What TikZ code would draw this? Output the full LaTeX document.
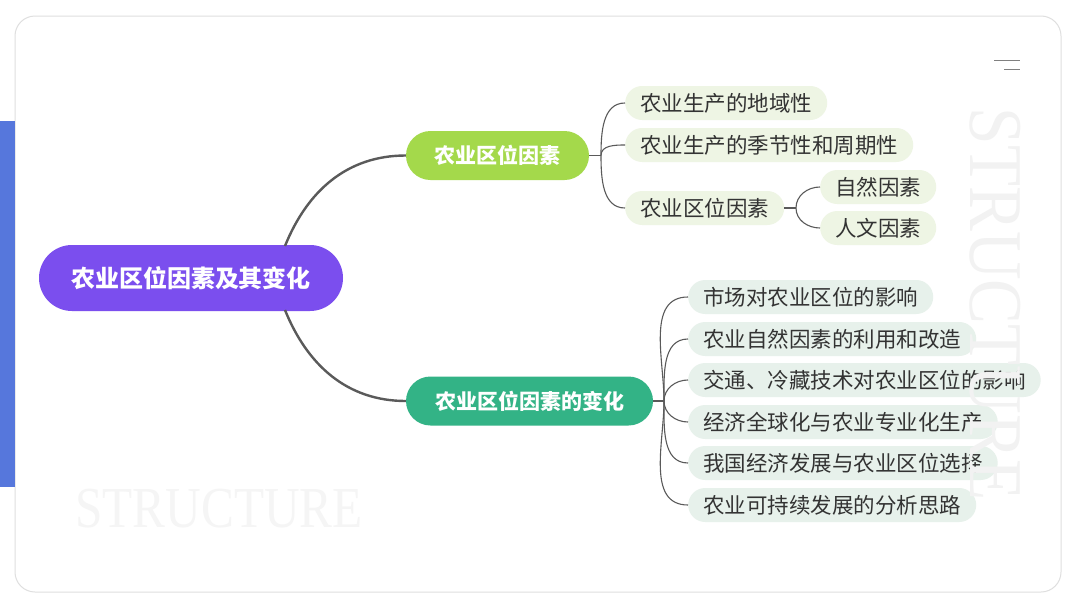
\documentclass[tikz,border=0pt]{standalone}
\usepackage{fontspec}
\setmainfont{Noto Sans CJK SC}
\newfontfamily\wmfont{Liberation Serif}
\usetikzlibrary{positioning}
\definecolor{barblue}{HTML}{5677DC}
\definecolor{rootpurple}{HTML}{7B4EEE}
\definecolor{factgreen}{HTML}{A4D94B}
\definecolor{changeteal}{HTML}{33B386}
\definecolor{leafgreen}{HTML}{EEF5E4}
\definecolor{leafmint}{HTML}{E7F1EB}
\definecolor{inkgray}{HTML}{333333}
\definecolor{stemgray}{HTML}{5A5A5A}

\begin{document}
\begin{tikzpicture}[x=1pt,y=-1pt,
  every node/.style={inner sep=0pt},
  pill/.style={rounded corners=#1, text=white, font=\bfseries},
  leaf/.style={fill=#1, rounded corners=17pt, minimum height=34pt, inner xsep=15pt,
    text=inkgray, font=\fontsize{21.5}{21.5}\selectfont, anchor=west},
  stem/.style={draw=stemgray, line width=2.4pt},
  twig/.style={draw=stemgray, line width=1.1pt}]
  \useasboundingbox (0,0) rectangle (1080,608);
  % card and side bar
  \fill[white] (0,0) rectangle (1080,608);
  \draw[gray!25, line width=1pt, rounded corners=20pt] (15,16) rectangle (1061,592);
  \fill[barblue] (0,121) rectangle (15,487);
  \draw[gray, line width=1pt] (994,60) -- (1020,60) (1004,69) -- (1020,69);
  \node[text=gray!8, font=\wmfont\fontsize{58}{58}\selectfont, xscale=0.85] (wmh) at (219,509) {STRUCTURE};

  % root and branches
  \node[pill=33pt, fill=rootpurple, minimum width=304pt, minimum height=66pt,
    font=\bfseries\fontsize{24}{24}\selectfont] (root) at (191,278) {农业区位因素及其变化};
  \node[pill=24.5pt, fill=factgreen, minimum width=183pt, minimum height=49pt,
    font=\bfseries\fontsize{21}{21}\selectfont] (fact) at (497.5,155.5) {农业区位因素};
  \node[pill=24.5pt, fill=changeteal, minimum width=247pt, minimum height=49pt,
    font=\bfseries\fontsize{21}{21}\selectfont] (change) at (529.5,401) {农业区位因素的变化};
  \coordinate (rootup) at (285,246);
  \coordinate (rootdown) at (285,310);
  \draw[stem] (rootup) to[out=68,in=180] (fact.west);
  \draw[stem] (rootdown) to[out=-68,in=180] (change.west);

  % factors
  \coordinate (jfact) at (601,155.5);
  \draw[twig] (fact.east) -- (jfact);
  \foreach \n/\y/\t/\o in {a/103/农业生产的地域性/90,
      b/145/农业生产的季节性和周期性/90,
      c/208/农业区位因素/-90}{
    \node[leaf=leafgreen] (f\n) at (625,\y) {\t};
    \draw[twig] (jfact) to[out=\o,in=180] (f\n.west);
  }
  \coordinate (jsub) at (796,208);
  \draw[twig] (fc.east) -- (jsub);
  \foreach \n/\y/\t/\o in {a/187/自然因素/90, b/228/人文因素/-90}{
    \node[leaf=leafgreen] (s\n) at (820,\y) {\t};
    \draw[twig] (jsub) to[out=\o,in=180] (s\n.west);
  }

  % changes
  \coordinate (jchange) at (664,401);
  \draw[twig] (change.east) -- (jchange);
  \foreach \n/\y/\t/\o in {a/297/市场对农业区位的影响/90,
      b/339/农业自然因素的利用和改造/90,
      c/380/交通、冷藏技术对农业区位的影响/90,
      d/422/经济全球化与农业专业化生产/-90,
      e/463/我国经济发展与农业区位选择/-90,
      f/505/农业可持续发展的分析思路/-90}{
    \node[leaf=leafmint] (c\n) at (688,\y) {\t};
    \draw[twig] (jchange) to[out=\o,in=180] (c\n.west);
  }

  \node[text=gray!10, font=\wmfont\fontsize{76}{76}\selectfont, yscale=0.885, rotate=-90] (wmv) at (995,304) {STRUCTURE};
\end{tikzpicture}
\end{document}
